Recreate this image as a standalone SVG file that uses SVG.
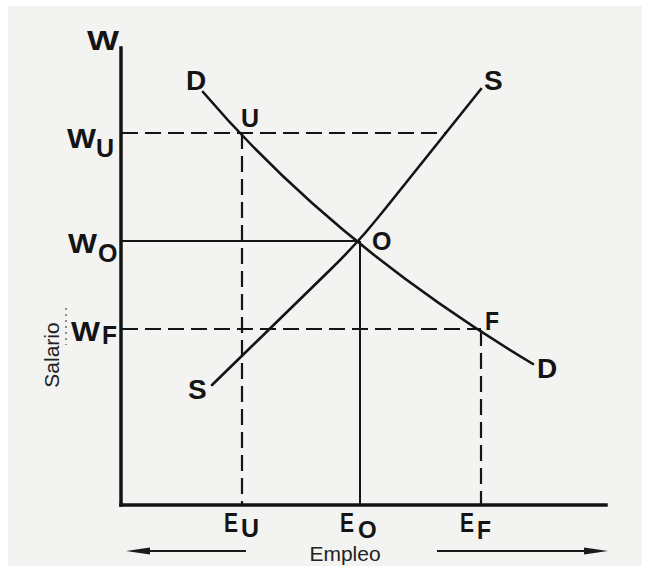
<svg xmlns="http://www.w3.org/2000/svg" width="648" height="570" viewBox="0 0 648 570">
<defs>
<style>
.lbl{font-family:"Liberation Sans",Arial,sans-serif;font-weight:bold;font-size:28px;fill:#141414}
.sub{font-family:"Liberation Sans",Arial,sans-serif;font-weight:bold;font-size:25px;fill:#141414}
.ax{stroke:#141414;stroke-width:3.5;fill:none;stroke-linecap:square}
.crv{stroke:#141414;stroke-width:2.6;fill:none;stroke-linecap:round;stroke-linejoin:round}
.ref{stroke:#141414;stroke-width:2;fill:none}
.dash{stroke:#141414;stroke-width:2.2;fill:none;stroke-dasharray:16 7}
.cap{font-family:"Liberation Sans",Arial,sans-serif;font-size:21px;fill:#222}
.arr{stroke:#1a1a1a;stroke-width:2;fill:none}
</style>
</defs>
<rect x="0" y="0" width="648" height="570" fill="#ffffff"/>
<rect x="8" y="6" width="634" height="560" fill="#f3f3f1"/>

<g id="connectors">
  <path id="axis-y" class="ax" d="M121,48 L121,505"/>
  <path id="axis-x" class="ax" d="M121,505 L606,505"/>
  <path id="wu-line" class="dash" d="M122,133 L447,133"/>
  <path id="eu-line" class="dash" d="M242,133 L242,504"/>
  <path id="wo-line" class="ref" d="M122,241 L360,241"/>
  <path id="eo-line" class="ref" d="M360,241 L360,504"/>
  <path id="wf-line" class="dash" d="M122,329 L481,329"/>
  <path id="ef-line" class="dash" d="M481,330 L481,504"/>
  <path id="demand" class="crv" d="M203,92 Q332.8,244 533,364"/>
  <path id="supply" class="crv" d="M212,385 L330,270 Q359,242 385,209 L481,89"/>
  <path class="arr" d="M246,551 L140,551"/>
  <polygon points="126,551 150,547.5 150,554.5" fill="#1a1a1a"/>
  <path class="arr" d="M437,551 L594,551"/>
  <polygon points="608,551 584,547.5 584,554.5" fill="#1a1a1a"/>
  <path d="M66,308 L66,345" stroke="#555" stroke-width="1.3" stroke-dasharray="2 4" fill="none"/>
</g>

<g id="axis-w"><text class="lbl" x="87" y="50" textLength="32" lengthAdjust="spacingAndGlyphs">W</text></g>
<g id="label-wu"><text class="lbl" x="67" y="148"><tspan textLength="29" lengthAdjust="spacingAndGlyphs">W</tspan><tspan class="sub" x="96" y="157">U</tspan></text></g>
<g id="label-wo"><text class="lbl" x="68" y="253"><tspan textLength="29" lengthAdjust="spacingAndGlyphs">W</tspan><tspan class="sub" x="98" y="262">O</tspan></text></g>
<g id="label-wf"><text class="lbl" x="71" y="341"><tspan textLength="29" lengthAdjust="spacingAndGlyphs">W</tspan><tspan class="sub" x="102" y="344" textLength="15" lengthAdjust="spacingAndGlyphs">F</tspan></text></g>

<g id="point-u"><text class="sub" x="241" y="127">U</text></g>
<g id="point-o"><text class="sub" x="372" y="250">O</text></g>
<g id="point-f"><text class="sub" x="485" y="330" textLength="14" lengthAdjust="spacingAndGlyphs">F</text></g>
<g id="d-top"><text class="lbl" x="186" y="90">D</text></g>
<g id="d-bottom"><text class="lbl" x="537" y="378">D</text></g>
<g id="s-top"><text class="lbl" x="484" y="90">S</text></g>
<g id="s-bottom"><text class="lbl" x="188" y="399">S</text></g>

<g id="label-eu"><text class="lbl" x="224" y="532"><tspan textLength="14" lengthAdjust="spacingAndGlyphs">E</tspan><tspan class="sub" x="241" y="537">U</tspan></text></g>
<g id="label-eo"><text class="lbl" x="340" y="532"><tspan textLength="14" lengthAdjust="spacingAndGlyphs">E</tspan><tspan class="sub" x="358" y="538" style="font-size:24px">O</tspan></text></g>
<g id="label-ef"><text class="lbl" x="460" y="532"><tspan textLength="14" lengthAdjust="spacingAndGlyphs">E</tspan><tspan class="sub" x="477" y="539" textLength="14" lengthAdjust="spacingAndGlyphs">F</tspan></text></g>

<g id="caption-empleo"><text class="cap" x="345" y="561" text-anchor="middle">Empleo</text></g>
<g id="caption-salario"><text class="cap" transform="translate(59,355) rotate(-90)" text-anchor="middle">Salario</text></g>
</svg>
